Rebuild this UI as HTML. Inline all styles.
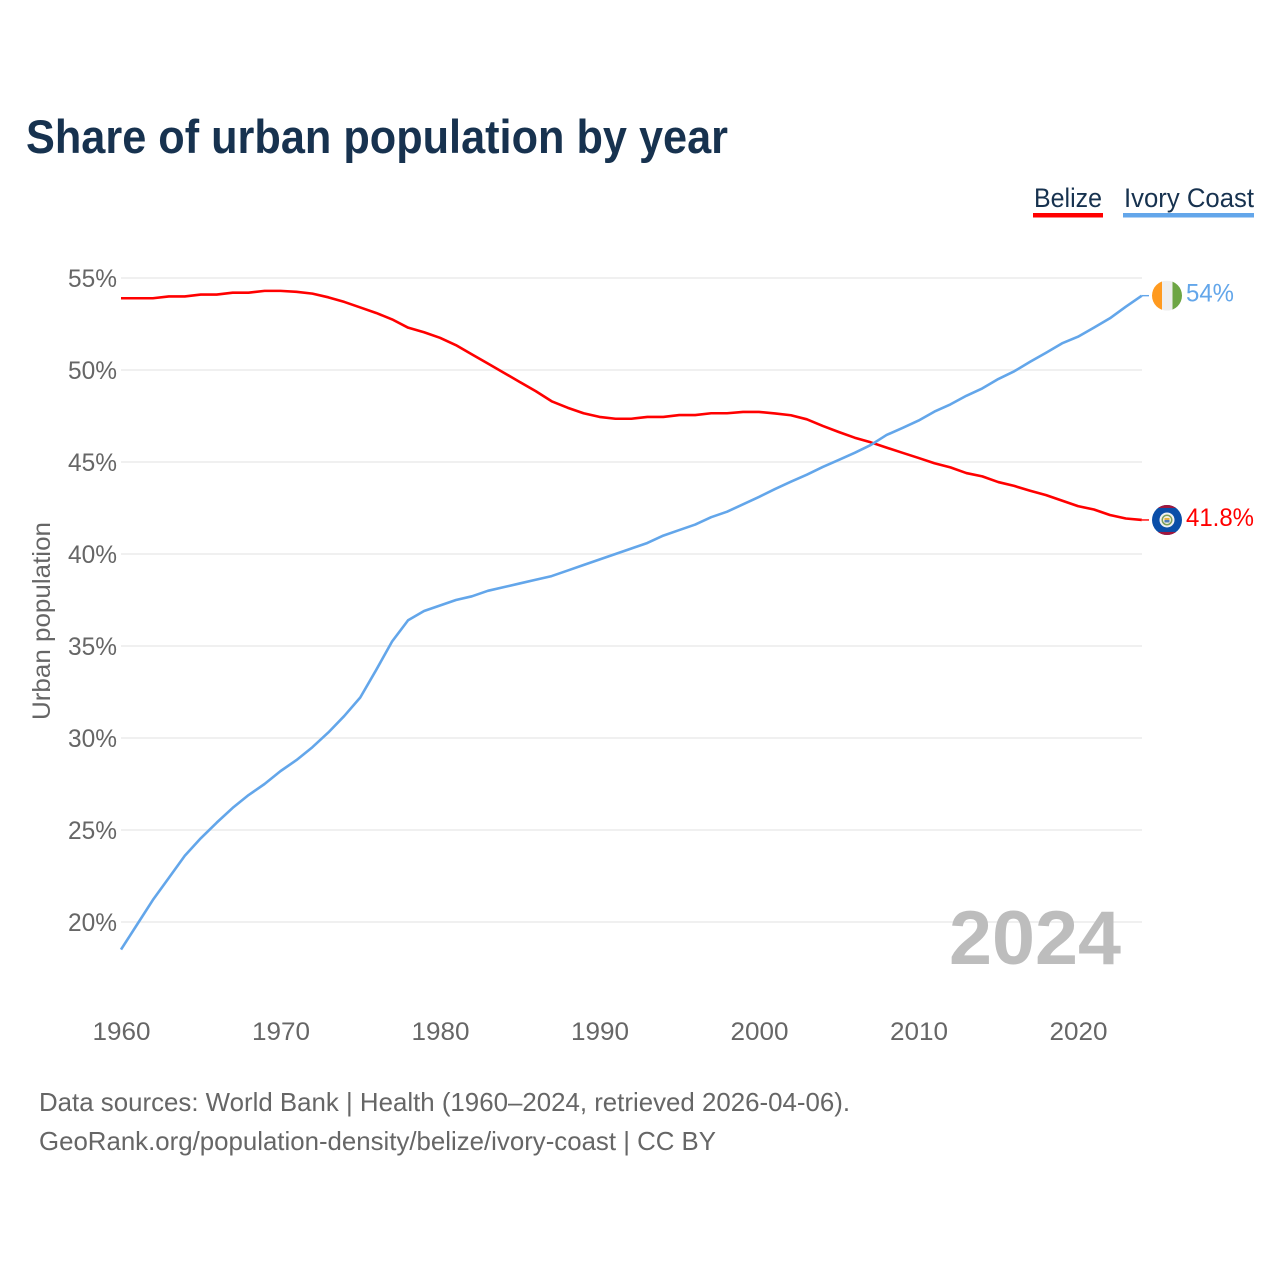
<!DOCTYPE html>
<html lang="en">
<head>
<meta charset="utf-8">
<title>Share of urban population by year</title>
<style>
html,body{margin:0;padding:0;background:#fff}
svg{display:block}
text{font-family:"Liberation Sans",sans-serif}
</style>
</head>
<body>
<svg id="chart" xmlns="http://www.w3.org/2000/svg" width="1280" height="1280" viewBox="0 0 1280 1280">
  <rect x="0" y="0" width="1280" height="1280" fill="#fff"/>
  <text x="26" y="153" font-size="47" font-weight="700" fill="#17324f" textLength="702" lengthAdjust="spacingAndGlyphs">Share of urban population by year</text>

  <g>
    <text x="1034" y="207" font-size="26.5" fill="#17324f" textLength="68" lengthAdjust="spacingAndGlyphs">Belize</text>
    <rect x="1033" y="213" width="70" height="4.5" fill="#ff0000"/>
  </g>
  <g>
    <text x="1124" y="207" font-size="26.5" fill="#17324f" textLength="130" lengthAdjust="spacingAndGlyphs">Ivory Coast</text>
    <rect x="1123" y="213" width="131" height="4.5" fill="#63a6ea"/>
  </g>

  <g id="grid"></g>
  <g id="yticks"></g>
  <g id="xticks"></g>

  <text transform="translate(50,621) rotate(-90)" text-anchor="middle" font-size="25" fill="#666" textLength="198" lengthAdjust="spacingAndGlyphs">Urban population</text>

  <text x="949" y="964" font-size="76" font-weight="700" fill="#bdbdbd" textLength="172" lengthAdjust="spacingAndGlyphs">2024</text>

  <g id="series"></g>
  <g id="ends"></g>

  <text x="39" y="1111" font-size="26" fill="#666" textLength="811" lengthAdjust="spacingAndGlyphs">Data sources: World Bank | Health (1960–2024, retrieved 2026-04-06).</text>
  <text x="39" y="1150" font-size="26" fill="#666" textLength="677" lengthAdjust="spacingAndGlyphs">GeoRank.org/population-density/belize/ivory-coast | CC BY</text>
</svg>
<script>
const years = [1960,1961,1962,1963,1964,1965,1966,1967,1968,1969,1970,1971,1972,1973,1974,1975,1976,1977,1978,1979,1980,1981,1982,1983,1984,1985,1986,1987,1988,1989,1990,1991,1992,1993,1994,1995,1996,1997,1998,1999,2000,2001,2002,2003,2004,2005,2006,2007,2008,2009,2010,2011,2012,2013,2014,2015,2016,2017,2018,2019,2020,2021,2022,2023,2024];
const belizeValues = [53.9,53.9,53.9,54.0,54.0,54.1,54.1,54.2,54.2,54.3,54.3,54.25,54.15,53.95,53.7,53.4,53.1,52.75,52.3,52.05,51.75,51.35,50.85,50.35,49.85,49.35,48.85,48.3,47.95,47.65,47.45,47.35,47.35,47.45,47.45,47.55,47.55,47.65,47.65,47.72,47.72,47.64,47.54,47.32,46.96,46.63,46.32,46.07,45.78,45.5,45.22,44.93,44.71,44.4,44.22,43.91,43.7,43.44,43.2,42.9,42.6,42.42,42.12,41.93,41.85];
const ivoryCoastValues = [18.5,19.85,21.2,22.4,23.6,24.55,25.4,26.2,26.9,27.5,28.2,28.8,29.5,30.3,31.2,32.2,33.7,35.25,36.4,36.9,37.2,37.5,37.7,38.0,38.2,38.4,38.6,38.8,39.1,39.4,39.7,40.0,40.3,40.6,41.0,41.3,41.6,42.0,42.3,42.7,43.1,43.53,43.93,44.31,44.73,45.11,45.5,45.92,46.47,46.85,47.25,47.74,48.13,48.6,49.0,49.51,49.93,50.45,50.94,51.45,51.81,52.3,52.81,53.44,54.04];
const yTickValues = [20,25,30,35,40,45,50,55];
const yTickLabels = ["20%","25%","30%","35%","40%","45%","50%","55%"];
const xTickValues = [1960,1970,1980,1990,2000,2010,2020];
const xTickLabels = ["1960","1970","1980","1990","2000","2010","2020"];
const belizeEndLabel = "41.8%";
const ivoryCoastEndLabel = "54%";

const NS = "http://www.w3.org/2000/svg";
function xScale(year){ return 121 + (year - 1960) * 15.95; }
function yScale(value){ return 922 - (value - 20) * 18.4; }
function make(tag, parentId){
  const el = document.createElementNS(NS, tag);
  document.getElementById(parentId).appendChild(el);
  return el;
}
function linePath(values){
  return values.map((v, i) => (i ? "L" : "M") + xScale(years[i]).toFixed(2) + " " + yScale(v).toFixed(2)).join(" ");
}

yTickValues.forEach((v, i) => {
  const gridline = make("line", "grid");
  
  
  gridline.setAttribute("x1", 121);
  gridline.setAttribute("x2", 1142);
  gridline.setAttribute("y1", yScale(v));
  gridline.setAttribute("y2", yScale(v));
  gridline.setAttribute("stroke", "#ececec");
  gridline.setAttribute("stroke-width", 1.6);

  const label = make("text", "yticks");
  
  
  label.setAttribute("x", 117);
  label.setAttribute("y", yScale(v) + 9);
  label.setAttribute("text-anchor", "end");
  label.setAttribute("font-size", 25);
  label.setAttribute("fill", "#666");
  label.setAttribute("textLength", 49);
  label.setAttribute("lengthAdjust", "spacingAndGlyphs");
  label.textContent = yTickLabels[i];
});

xTickValues.forEach((v, i) => {
  const label = make("text", "xticks");
  
  
  label.setAttribute("x", xScale(v) + 0.5);
  label.setAttribute("y", 1040);
  label.setAttribute("text-anchor", "middle");
  label.setAttribute("font-size", 25);
  label.setAttribute("fill", "#666");
  label.setAttribute("textLength", 58);
  label.setAttribute("lengthAdjust", "spacingAndGlyphs");
  label.textContent = xTickLabels[i];
});

const belizeLine = make("path", "series");


belizeLine.setAttribute("d", linePath(belizeValues));
belizeLine.setAttribute("fill", "none");
belizeLine.setAttribute("stroke", "#ff0000");
belizeLine.setAttribute("stroke-width", 2.6);
belizeLine.setAttribute("stroke-linejoin", "round");

const ivoryLine = make("path", "series");


ivoryLine.setAttribute("d", linePath(ivoryCoastValues));
ivoryLine.setAttribute("fill", "none");
ivoryLine.setAttribute("stroke", "#63a6ea");
ivoryLine.setAttribute("stroke-width", 2.6);
ivoryLine.setAttribute("stroke-linejoin", "round");

const lastYear = years[years.length - 1];
const belizeY = yScale(belizeValues[belizeValues.length - 1]);
const ivoryY = yScale(ivoryCoastValues[ivoryCoastValues.length - 1]);

const belizeTail = make("line", "ends");


belizeTail.setAttribute("x1", xScale(lastYear));
belizeTail.setAttribute("x2", 1149);
belizeTail.setAttribute("y1", belizeY);
belizeTail.setAttribute("y2", belizeY);
belizeTail.setAttribute("stroke", "#ff0000");
belizeTail.setAttribute("stroke-width", 1.4);

const ivoryTail = make("line", "ends");


ivoryTail.setAttribute("x1", xScale(lastYear));
ivoryTail.setAttribute("x2", 1149);
ivoryTail.setAttribute("y1", ivoryY);
ivoryTail.setAttribute("y2", ivoryY);
ivoryTail.setAttribute("stroke", "#63a6ea");
ivoryTail.setAttribute("stroke-width", 1.4);

/* Ivory Coast flag marker */
const ivoryFlag = make("g", "ends");
ivoryFlag.id = "ivoryFlag";


ivoryFlag.setAttribute("transform", "translate(1167," + ivoryY + ")");
ivoryFlag.innerHTML =
  '<clipPath id="ivoryClip"><circle cx="0" cy="0" r="15"/></clipPath>' +
  '<g clip-path="url(#ivoryClip)">' +
  '<rect x="-15" y="-15" width="10" height="30" fill="#ff9a1f"/>' +
  '<rect x="-5" y="-15" width="10.5" height="30" fill="#eeeeee"/>' +
  '<rect x="5.5" y="-15" width="10" height="30" fill="#6da544"/>' +
  '</g>';

/* Belize flag marker */
const belizeFlag = make("g", "ends");
belizeFlag.id = "belizeFlag";


belizeFlag.setAttribute("transform", "translate(1167," + belizeY + ")");
belizeFlag.innerHTML =
  '<clipPath id="belizeClip"><circle cx="0" cy="0" r="15"/></clipPath>' +
  '<g clip-path="url(#belizeClip)">' +
  '<rect x="-15" y="-15" width="30" height="30" fill="#0a4ea8"/>' +
  '<rect x="-15" y="-15" width="30" height="3" fill="#a2163c"/>' +
  '<rect x="-15" y="12" width="30" height="3" fill="#a2163c"/>' +
  '<circle cx="0" cy="0" r="7.5" fill="#f2f2f2"/>' +
  '<circle cx="0" cy="0" r="5.5" fill="#7da05a"/>' +
  '<circle cx="0" cy="0" r="4" fill="#f4f1e2"/>' +
  '<rect x="-2.5" y="-2" width="5" height="2" fill="#e8b23c"/>' +
  '<rect x="-2.5" y="0" width="5" height="2.5" fill="#4f7fb8"/>' +
  '</g>';

const ivoryLabel = make("text", "ends");


ivoryLabel.setAttribute("x", 1186);
ivoryLabel.setAttribute("y", ivoryY + 6);
ivoryLabel.setAttribute("font-size", 25);
ivoryLabel.setAttribute("fill", "#63a6ea");
ivoryLabel.setAttribute("textLength", 48);
ivoryLabel.setAttribute("lengthAdjust", "spacingAndGlyphs");
ivoryLabel.textContent = ivoryCoastEndLabel;

const belizeLabel = make("text", "ends");


belizeLabel.setAttribute("x", 1186);
belizeLabel.setAttribute("y", belizeY + 6);
belizeLabel.setAttribute("font-size", 25);
belizeLabel.setAttribute("fill", "#ff0000");
belizeLabel.setAttribute("textLength", 68);
belizeLabel.setAttribute("lengthAdjust", "spacingAndGlyphs");
belizeLabel.textContent = belizeEndLabel;
</script>
</body>
</html>
